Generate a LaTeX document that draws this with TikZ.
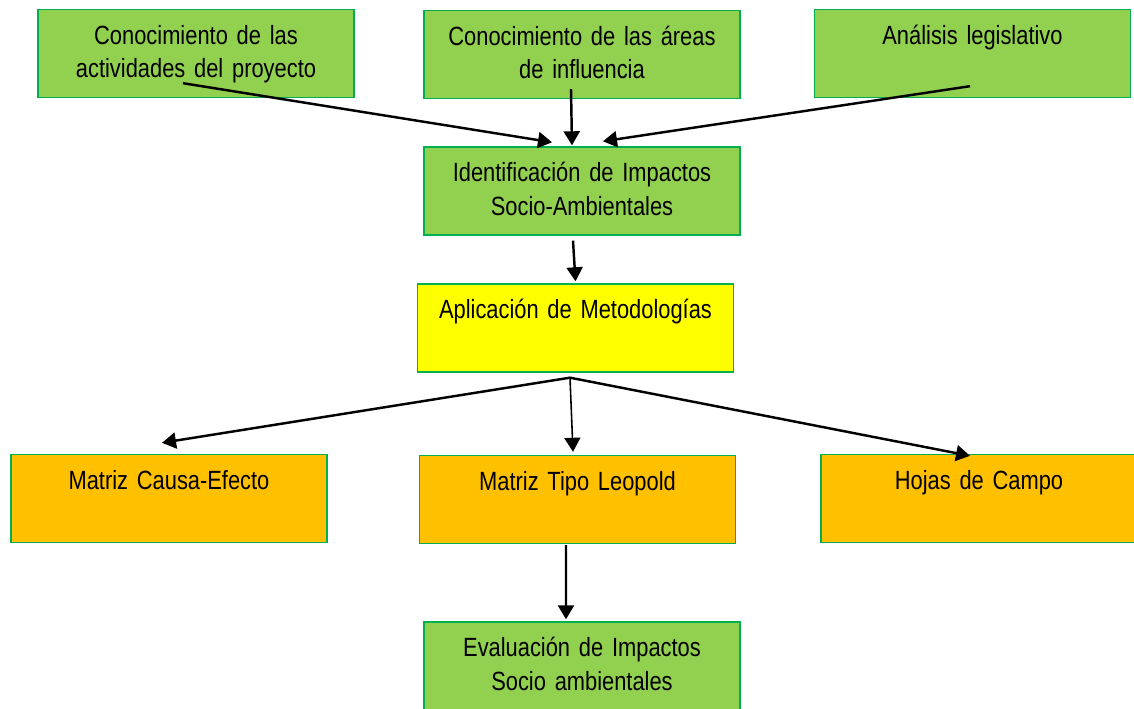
\documentclass[tikz,border=0pt]{standalone}
\usepackage{fontspec}
\setmainfont{Liberation Sans}[FakeStretch=0.83]
\usepackage{tikz}
\usetikzlibrary{arrows.meta, positioning, calc}
\definecolor{boxgreen}{RGB}{146,208,80}
\definecolor{boxline}{RGB}{0,176,80}
\definecolor{boxyellow}{RGB}{255,255,0}
\definecolor{boxorange}{RGB}{255,192,0}
\newcommand{\boxfont}{\fontsize{15pt}{18.8pt}\selectfont\fontdimen2\font=0.22em\relax}
\begin{document}
\begin{tikzpicture}[x=0.02cm, y=-0.02cm,
  box/.style={draw=boxline, line width=0.8pt, inner sep=0pt, text width=6.32cm, align=center,
    text height=0.70cm, text depth=1.06cm, font=\boxfont},
  conn/.style={line width=1.4pt, -{Triangle[length=0.28cm, width=0.32cm]}}]
\useasboundingbox (0,0) rectangle (1134,709);
\node[box, fill=boxgreen] (conoc) at (196,53.5) {Conocimiento de las\\actividades del proyecto};
\node[box, fill=boxgreen] (areas) at (582,54.5) {Conocimiento de las áreas\\de influencia};
\node[box, fill=boxgreen] (legis) at (972.5,53.5) {Análisis legislativo};
\node[box, fill=boxgreen] (ident) at (582,191) {Identificación de Impactos\\Socio-Ambientales};
\node[box, fill=boxyellow] (metod) at (575.5,328) {Aplicación de Metodologías};
\node[box, fill=boxorange] (causa) at (169,498.5) {Matriz Causa-Efecto};
\node[box, fill=boxorange] (leopold) at (577.5,499.5) {Matriz Tipo Leopold};
\node[box, fill=boxorange] (hojas) at (979,498.5) {Hojas de Campo};
\node[box, fill=boxgreen] (evalua) at (582,666) {Evaluación de Impactos\\Socio ambientales};
\coordinate (fork) at ([xshift=-0.11cm, yshift=-0.1cm]metod.south);
\draw[conn] ([xshift=-0.26cm, yshift=0.3cm]conoc.south) -- ([xshift=-0.6cm, yshift=0.08cm]ident.north);
\draw[conn] ([xshift=-0.22cm, yshift=0.2cm]areas.south) -- ([xshift=-0.2cm, yshift=0.02cm]ident.north);
\draw[conn] ([xshift=-0.05cm, yshift=0.24cm]legis.south) -- ([xshift=0.42cm, yshift=0.1cm]ident.north);
\draw[conn] ([xshift=-0.18cm, yshift=-0.1cm]ident.south) -- ([yshift=0.04cm]metod.north);
\draw[conn] (fork) -- ([xshift=-0.14cm, yshift=0.22cm]causa.north);
\draw[conn, line width=0.9pt] (fork) -- ([xshift=-0.09cm, yshift=0.06cm]leopold.north);
\draw[conn] (fork) -- ([xshift=-0.18cm, yshift=-0.04cm]hojas.north);
\draw[conn] ([xshift=-0.23cm, yshift=-0.02cm]leopold.south) -- ([xshift=-0.32cm, yshift=0.04cm]evalua.north);
\end{tikzpicture}
\end{document}
